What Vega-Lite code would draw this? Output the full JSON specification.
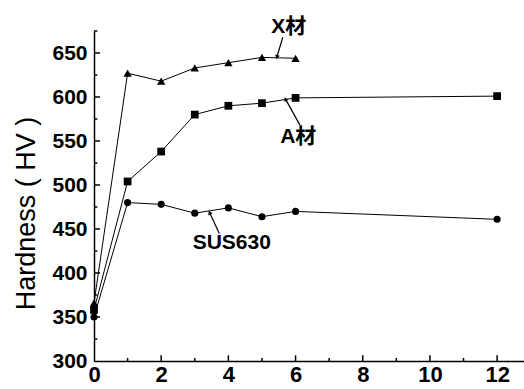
{
  "$schema": "https://vega.github.io/schema/vega-lite/v6.json",
  "autosize": "none",
  "width": 430,
  "height": 330,
  "padding": {"left": 94, "top": 31, "right": 0, "bottom": 28},
  "background": "white",
  "config": {"view": {"stroke": null}, "font": "Liberation Sans"},
  "datasets": {
    "hv": [
      {"series": "X材", "t": 0, "hv": 366},
      {"series": "X材", "t": 1, "hv": 627},
      {"series": "X材", "t": 2, "hv": 618},
      {"series": "X材", "t": 3, "hv": 633},
      {"series": "X材", "t": 4, "hv": 639},
      {"series": "X材", "t": 5, "hv": 645},
      {"series": "X材", "t": 6, "hv": 644},
      {"series": "A材", "t": 0, "hv": 358},
      {"series": "A材", "t": 1, "hv": 504},
      {"series": "A材", "t": 2, "hv": 538},
      {"series": "A材", "t": 3, "hv": 580},
      {"series": "A材", "t": 4, "hv": 590},
      {"series": "A材", "t": 5, "hv": 593},
      {"series": "A材", "t": 6, "hv": 599},
      {"series": "A材", "t": 12, "hv": 601},
      {"series": "SUS630", "t": 0, "hv": 350},
      {"series": "SUS630", "t": 1, "hv": 480},
      {"series": "SUS630", "t": 2, "hv": 478},
      {"series": "SUS630", "t": 3, "hv": 468},
      {"series": "SUS630", "t": 4, "hv": 474},
      {"series": "SUS630", "t": 5, "hv": 464},
      {"series": "SUS630", "t": 6, "hv": 470},
      {"series": "SUS630", "t": 12, "hv": 461}
    ],
    "labels": [
      {"label": "X材", "t": 5.8, "hv": 680},
      {"label": "A材", "t": 6.08, "hv": 555},
      {"label": "SUS630", "t": 4.1, "hv": 434}
    ],
    "arrows": [
      {"label": "X材", "t": 5.62, "hv": 668, "t2": 5.45, "hv2": 646},
      {"label": "A材", "t": 6.13, "hv": 568, "t2": 5.71, "hv2": 597},
      {"label": "SUS630", "t": 3.73, "hv": 445, "t2": 3.45, "hv2": 468}
    ],
    "xticks": [
      {"v": 1, "kind": "minor"}, {"v": 2, "kind": "major"}, {"v": 3, "kind": "minor"},
      {"v": 4, "kind": "major"}, {"v": 5, "kind": "minor"}, {"v": 6, "kind": "major"},
      {"v": 7, "kind": "minor"}, {"v": 8, "kind": "major"}, {"v": 9, "kind": "minor"},
      {"v": 10, "kind": "major"}, {"v": 11, "kind": "minor"}, {"v": 12, "kind": "major"}
    ],
    "yticks": [
      {"v": 325, "kind": "minor"}, {"v": 350, "kind": "major"}, {"v": 375, "kind": "minor"},
      {"v": 400, "kind": "major"}, {"v": 425, "kind": "minor"}, {"v": 450, "kind": "major"},
      {"v": 475, "kind": "minor"}, {"v": 500, "kind": "major"}, {"v": 525, "kind": "minor"},
      {"v": 550, "kind": "major"}, {"v": 575, "kind": "minor"}, {"v": 600, "kind": "major"},
      {"v": 625, "kind": "minor"}, {"v": 650, "kind": "major"}, {"v": 675, "kind": "minor"}
    ]
  },
  "layer": [
    {
      "data": {"name": "hv"},
      "mark": {"type": "line", "color": "black", "strokeWidth": 1},
      "encoding": {
        "x": {
          "field": "t", "type": "quantitative",
          "scale": {"domain": [0, 12.8], "nice": false, "zero": false},
          "axis": {
            "title": null,
            "values": [0, 2, 4, 6, 8, 10, 12],
            "grid": false,
            "domainColor": "black", "domainWidth": 1.5,
            "ticks": false,
            "labelPadding": 3,
            "labelFontSize": 22, "labelFontWeight": "bold", "labelColor": "black",
            "labelFlush": false, "labelOverlap": false
          }
        },
        "y": {
          "field": "hv", "type": "quantitative",
          "scale": {"domain": [300, 675], "nice": false, "zero": false},
          "axis": {
            "title": "Hardness ( HV )",
            "titleFontSize": 27, "titleFontWeight": "normal", "titleColor": "black",
            "titleX": -68, "titleY": 182, "titleAngle": -90,
            "titleAlign": "center", "titleBaseline": "middle",
            "values": [300, 350, 400, 450, 500, 550, 600, 650],
            "grid": false,
            "domainColor": "black", "domainWidth": 1.5,
            "ticks": false,
            "labelPadding": 7,
            "labelFontSize": 21, "labelFontWeight": "bold", "labelColor": "black",
            "labelFlush": false, "labelOverlap": false
          }
        },
        "detail": {"field": "series"}
      }
    },
    {
      "data": {"name": "xticks"},
      "transform": [{"filter": "datum.kind == 'major'"}],
      "mark": {"type": "rule", "color": "black", "strokeWidth": 1.5},
      "encoding": {"x": {"field": "v", "type": "quantitative"}, "y": {"datum": 300, "type": "quantitative"}, "y2": {"datum": 306.5}}
    },
    {
      "data": {"name": "xticks"},
      "transform": [{"filter": "datum.kind == 'minor'"}],
      "mark": {"type": "rule", "color": "black", "strokeWidth": 1.5},
      "encoding": {"x": {"field": "v", "type": "quantitative"}, "y": {"datum": 300, "type": "quantitative"}, "y2": {"datum": 303.5}}
    },
    {
      "data": {"name": "yticks"},
      "transform": [{"filter": "datum.kind == 'major'"}],
      "mark": {"type": "rule", "color": "black", "strokeWidth": 1.5},
      "encoding": {"y": {"field": "v", "type": "quantitative"}, "x": {"datum": 0, "type": "quantitative"}, "x2": {"datum": 0.18}}
    },
    {
      "data": {"name": "yticks"},
      "transform": [{"filter": "datum.kind == 'minor'"}],
      "mark": {"type": "rule", "color": "black", "strokeWidth": 1.5},
      "encoding": {"y": {"field": "v", "type": "quantitative"}, "x": {"datum": 0, "type": "quantitative"}, "x2": {"datum": 0.1}}
    },
    {
      "data": {"name": "hv"},
      "mark": {"type": "point", "filled": true, "color": "black", "opacity": 1},
      "encoding": {
        "x": {"field": "t", "type": "quantitative"},
        "y": {"field": "hv", "type": "quantitative"},
        "shape": {
          "field": "series", "type": "nominal",
          "scale": {"domain": ["X材", "A材", "SUS630"], "range": ["triangle-up", "square", "circle"]},
          "legend": null
        },
        "size": {
          "field": "series", "type": "nominal",
          "scale": {"domain": ["X材", "A材", "SUS630"], "range": [70, 50, 55]},
          "legend": null
        }
      }
    },
    {
      "data": {"name": "arrows"},
      "mark": {"type": "rule", "color": "black", "strokeWidth": 1.2},
      "encoding": {
        "x": {"field": "t", "type": "quantitative"},
        "y": {"field": "hv", "type": "quantitative"},
        "x2": {"field": "t2"},
        "y2": {"field": "hv2"}
      }
    },
    {
      "data": {"name": "arrows"},
      "transform": [{"filter": "datum.label == 'X材'"}],
      "mark": {"type": "point", "shape": "triangle", "filled": true, "color": "black", "opacity": 1, "size": 22, "angle": 195},
      "encoding": {"x": {"field": "t2", "type": "quantitative"}, "y": {"field": "hv2", "type": "quantitative"}}
    },
    {
      "data": {"name": "arrows"},
      "transform": [{"filter": "datum.label == 'A材'"}],
      "mark": {"type": "point", "shape": "triangle", "filled": true, "color": "black", "opacity": 1, "size": 22, "angle": 331},
      "encoding": {"x": {"field": "t2", "type": "quantitative"}, "y": {"field": "hv2", "type": "quantitative"}}
    },
    {
      "data": {"name": "arrows"},
      "transform": [{"filter": "datum.label == 'SUS630'"}],
      "mark": {"type": "point", "shape": "triangle", "filled": true, "color": "black", "opacity": 1, "size": 22, "angle": 335},
      "encoding": {"x": {"field": "t2", "type": "quantitative"}, "y": {"field": "hv2", "type": "quantitative"}}
    },
    {
      "data": {"name": "labels"},
      "mark": {"type": "text", "fontSize": 21, "font": "Liberation Sans, Noto Sans CJK JP", "fontWeight": "bold", "color": "black", "align": "center", "baseline": "middle"},
      "encoding": {
        "x": {"field": "t", "type": "quantitative"},
        "y": {"field": "hv", "type": "quantitative"},
        "text": {"field": "label"}
      }
    }
  ]
}
